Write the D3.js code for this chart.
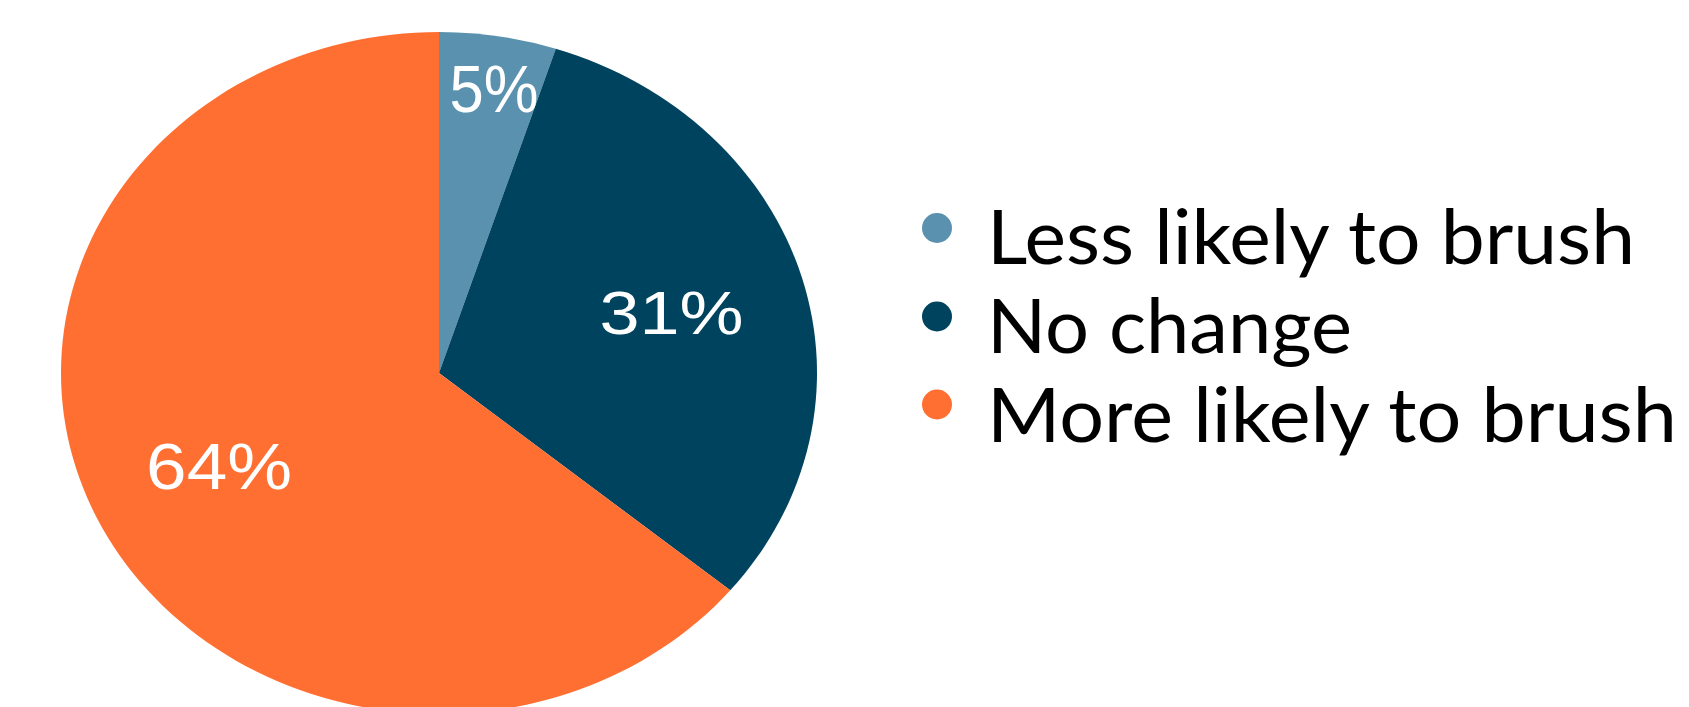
<!DOCTYPE html>
<html>
<head>
<meta charset="utf-8">
<script src="https://cdn.jsdelivr.net/npm/d3@7"></script>
<style>
  html, body { margin: 0; padding: 0; background: #ffffff; }
  svg { display: block; }
</style>
</head>
<body>
<svg id="chart" width="1689" height="707"></svg>
<script>
// ---- data ----
const categories = ["Less likely to brush", "No change", "More likely to brush"];
const values = [5, 31, 64];
const valueLabels = ["5%", "31%", "64%"];
const colors = ["#5a91ae", "#00435f", "#ff6f32"];

// ---- layout ----
const W = 1689, H = 707;
const cx = 439, cy = 373, rx = 378, ry = 341;
const yScale = ry / rx;

const svg = d3.select("#chart");

const pie = d3.pie().sort(null).value(d => d)(values);
const arc = d3.arc().innerRadius(0).outerRadius(rx);

const pieG = svg.append("g")
  .attr("transform", `translate(${cx},${cy}) scale(1,${yScale})`);

pieG.selectAll("path")
  .data(pie)
  .join("path")
  .attr("d", arc)
  .attr("fill", (d, i) => colors[i]);

// labels
const labelRadius = [320, 242, 243];
const labelDx = [5, 0, 0];
const labelSize = [66, 61, 64];
const labelWidth = [89, 144, 146];
const labelArc = r => d3.arc().innerRadius(r).outerRadius(r);
svg.append("g").selectAll("text")
  .data(pie)
  .join("text")
  .attr("x", (d, i) => cx + labelDx[i] + labelArc(labelRadius[i]).centroid(d)[0])
  .attr("y", (d, i) => cy + labelArc(labelRadius[i]).centroid(d)[1] * yScale + labelSize[i] * 0.358)
  .attr("text-anchor", "middle")
  .attr("font-family", "'Liberation Sans', Arial, sans-serif")
  .attr("font-size", (d, i) => labelSize[i])
  .attr("fill", "#ffffff")
  .attr("textLength", (d, i) => labelWidth[i])
  .attr("lengthAdjust", "spacingAndGlyphs")
  .text((d, i) => valueLabels[i]);

// legend
const legendX = 937, legendTextX = 987;
const markerY = [228, 316.5, 404.5];
const baseY = [264, 353, 442];
const textLen = [648, 365, 690];

const leg = svg.append("g");
leg.selectAll("circle")
  .data(categories)
  .join("circle")
  .attr("cx", legendX)
  .attr("cy", (d, i) => markerY[i])
  .attr("r", 15)
  .attr("fill", (d, i) => colors[i]);

leg.selectAll("text")
  .data(categories)
  .join("text")
  .attr("x", legendTextX)
  .attr("y", (d, i) => baseY[i])
  .attr("font-family", "Lato, 'Open Sans', sans-serif")
  .attr("font-size", 75)
  .attr("fill", "#000000")
  .attr("textLength", (d, i) => textLen[i])
  .attr("lengthAdjust", "spacingAndGlyphs")
  .text(d => d);
</script>
</body>
</html>
